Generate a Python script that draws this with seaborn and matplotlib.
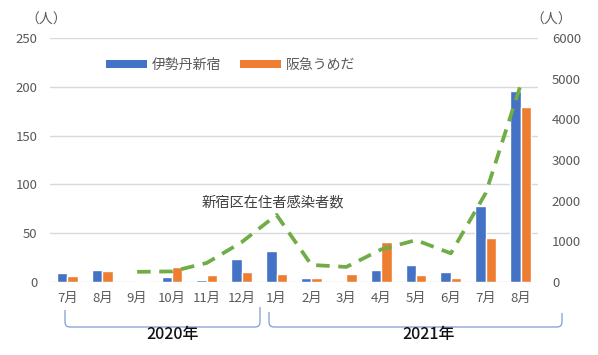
import matplotlib
matplotlib.use("Agg")
import matplotlib.pyplot as plt
import seaborn as sns
import numpy as np
import pandas as pd
from matplotlib.path import Path
from matplotlib.patches import PathPatch, Patch

# ---- data ----
month_keys = ["2020-07", "2020-08", "2020-09", "2020-10", "2020-11", "2020-12",
              "2021-01", "2021-02", "2021-03", "2021-04", "2021-05", "2021-06",
              "2021-07", "2021-08"]
month_labels = ["7月", "8月", "9月", "10月", "11月", "12月",
                "1月", "2月", "3月", "4月", "5月", "6月", "7月", "8月"]
isetan = [9, 12, 0, 5, 2, 24, 32, 4, 0, 12, 17, 10, 78, 196]
hankyu = [6, 11, 1, 15, 7.5, 10, 8, 4, 8, 40.5, 7.5, 4.5, 45, 179]
shinjuku = [np.nan, np.nan, 250, 260, 470, 980, 1650, 420, 370, 800, 1030, 705, 2185, 4840]
series_names = ["伊勢丹新宿", "阪急うめだ"]
line_label = "新宿区在住者感染者数"
year_labels = ["2020年", "2021年"]

C_BLUE = "#4472C4"
C_ORANGE = "#ED7D31"
C_GREEN = "#70AD47"
C_TEXT = "#595959"
C_GRID = "#D9D9D9"

sns.set_theme(style="white")
plt.rcParams['font.family'] = ['Noto Sans CJK JP', 'DejaVu Sans']

df = pd.DataFrame({
    "month": month_keys * 2,
    "value": isetan + hankyu,
    "store": [series_names[0]] * len(month_keys) + [series_names[1]] * len(month_keys),
})

W, H = 598, 355
fig = plt.figure(figsize=(W / 100, H / 100), dpi=100)
ax = fig.add_axes([50 / W, 1 - 282 / H, (538 - 50) / W, (282 - 38) / H])

sns.barplot(data=df, x="month", y="value", hue="store", order=month_keys,
            hue_order=series_names, palette=[C_BLUE, C_ORANGE], width=0.6,
            saturation=1, ax=ax, legend=False, errorbar=None)

ax.set_ylim(0, 250)
ax.set_yticks(np.arange(0, 251, 50))
ax.set_xlim(-0.5, len(month_keys) - 0.5)
ax.set_xticks(range(len(month_keys)))
ax.set_xticklabels(month_labels)
ax.set_xlabel("")
ax.set_ylabel("")
ax.yaxis.grid(True, color=C_GRID, linewidth=1.0)
ax.set_axisbelow(True)
for s in ax.spines.values():
    s.set_visible(False)
ax.tick_params(axis="y", length=0, pad=9, labelsize=9.5, labelcolor=C_TEXT)
ax.tick_params(axis="x", length=0, pad=7, labelsize=9.5, labelcolor=C_TEXT)

ax2 = ax.twinx()
sns.lineplot(x=np.arange(len(month_keys)), y=shinjuku, ax=ax2, color=C_GREEN,
             linewidth=2.7)
ln = ax2.lines[0]
ln.set_dashes([3.6, 2.3])
ax2.set_ylim(0, 6000)
ax2.set_yticks(np.arange(0, 6001, 1000))
ax2.set_xlim(-0.5, len(month_keys) - 0.5)
for s in ax2.spines.values():
    s.set_visible(False)
ax2.tick_params(axis="y", length=0, pad=10, labelsize=9.5, labelcolor=C_TEXT)
ax2.grid(False)

# legend
handles = [Patch(facecolor=C_BLUE, edgecolor="none"), Patch(facecolor=C_ORANGE, edgecolor="none")]
leg = ax.legend(handles, series_names, loc="center", bbox_to_anchor=(0.37, 0.889),
                ncol=2, frameon=False, fontsize=10, handlelength=2.9, handleheight=0.45,
                columnspacing=1.4, handletextpad=0.35, labelcolor=C_TEXT)

# annotation
fig.text(273 / W, 1 - 202 / H, line_label, ha="center", va="center",
         fontsize=10.3, color="#404040")

# units
fig.text(46 / W, 1 - 20 / H, "（人）", ha="center", va="center", fontsize=10, color=C_TEXT)
fig.text(551 / W, 1 - 20 / H, "（人）", ha="center", va="center", fontsize=10, color=C_TEXT)

# brackets
def bracket(x0, x1, ytop0, ytop1, ybot, r=5):
    def P(x, y):
        return (x / W, 1 - y / H)
    verts = [P(x0, ytop0), P(x0, ybot - r), P(x0, ybot), P(x0 + r, ybot),
             P(x1 - r, ybot), P(x1, ybot), P(x1, ybot - r), P(x1, ytop1)]
    codes = [Path.MOVETO, Path.LINETO, Path.CURVE3, Path.CURVE3,
             Path.LINETO, Path.CURVE3, Path.CURVE3, Path.LINETO]
    fig.add_artist(PathPatch(Path(verts, codes), transform=fig.transFigure,
                             facecolor="none", edgecolor="#7F9CD0", linewidth=0.9))

bracket(65, 260, 310, 307, 327)
bracket(269, 562, 312, 313, 327)

fig.text(173 / W, 1 - 335 / H, year_labels[0], ha="center", va="center",
         fontsize=11.5, color="#111111", fontweight="medium")
fig.text(429 / W, 1 - 335 / H, year_labels[1], ha="center", va="center",
         fontsize=11.5, color="#111111", fontweight="medium")

fig.savefig("out.png", dpi=100, facecolor="white")
